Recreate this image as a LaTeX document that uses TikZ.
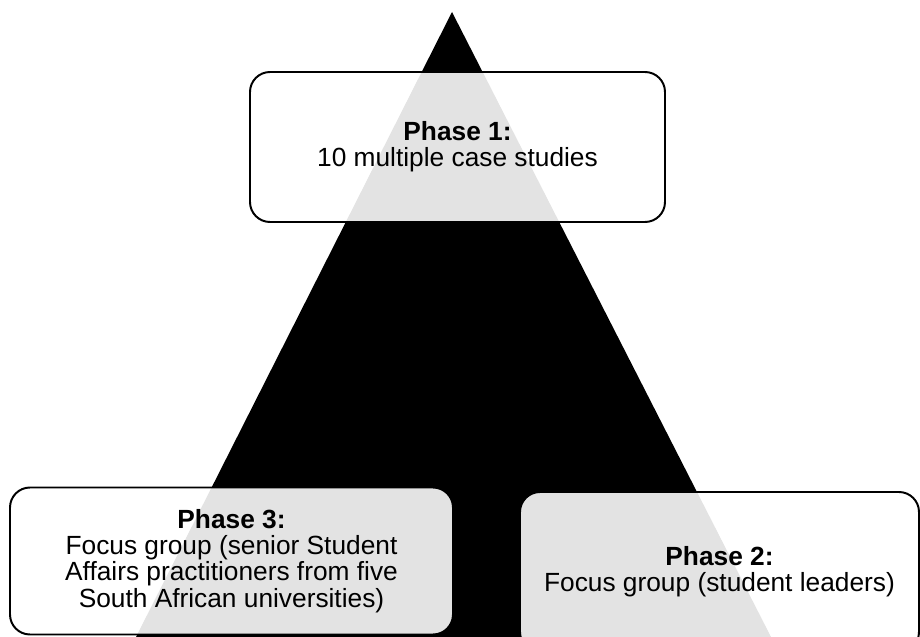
\documentclass[tikz,border=0pt]{standalone}
\usepackage{fontspec}
\setmainfont{Liberation Sans}
\usepackage{tikz}
\usetikzlibrary{positioning}

\begin{document}
\begin{tikzpicture}[
          x=0.025cm, y=-0.025cm,
          phase/.style={rectangle, rounded corners=0.5cm, draw=black, line width=1.4pt,
            fill=white, fill opacity=0.89, text opacity=1, align=center,
            font=\fontsize{18.7}{18.6}\selectfont, inner sep=0pt}
        ]
        \useasboundingbox (0,0) rectangle (920,637);
        \clip (0,0) rectangle (920,637);

        % Triangle behind the phases
        \coordinate (apex) at (452,12);
        \coordinate (baseleft) at (136,637);
        \coordinate (baseright) at (771,637);
        \fill[black] (apex) -- (baseleft) -- (baseright) -- cycle;

        % Phase boxes
        \node[phase, minimum width=415*0.025cm, minimum height=150*0.025cm] (phase1) at (457.5,147)
          {\textbf{Phase 1:}\\10 multiple case studies};
        \node[phase, minimum width=443*0.025cm, minimum height=147*0.025cm] (phase3) at (231.5,561)
          {\textbf{Phase 3:}\\Focus group (senior Student\\Affairs practitioners from five\\South African universities)};
        \node[phase, minimum width=399*0.025cm, minimum height=160*0.025cm] (phase2) at (719.5,572)
          {\textbf{Phase 2:}\\Focus group (student leaders)};

      \end{tikzpicture}
\end{document}
